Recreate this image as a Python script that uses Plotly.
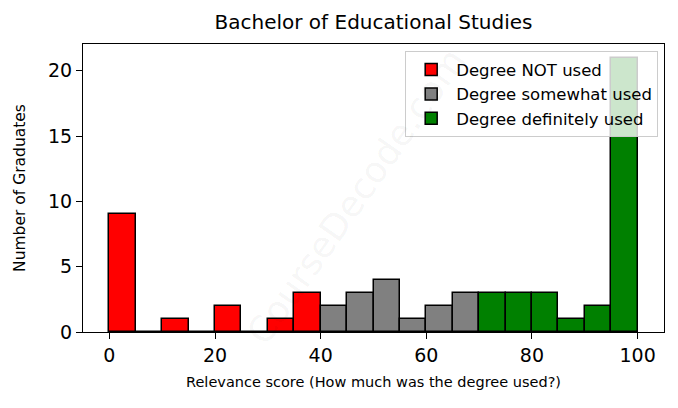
import plotly.graph_objects as go

bin_width = 5
not_used_bins = [0, 5, 10, 15, 20, 25, 30, 35]
not_used_counts = [9, 0, 1, 0, 2, 0, 1, 3]
somewhat_bins = [40, 45, 50, 55, 60, 65]
somewhat_counts = [2, 3, 4, 1, 2, 3]
definitely_bins = [70, 75, 80, 85, 90, 95]
definitely_counts = [3, 3, 3, 1, 2, 21]

series = [
    ("Degree NOT used", not_used_bins, not_used_counts, "#ff0000"),
    ("Degree somewhat used", somewhat_bins, somewhat_counts, "#808080"),
    ("Degree definitely used", definitely_bins, definitely_counts, "#008000"),
]

fig = go.Figure()
for name, bins, counts, color in series:
    fig.add_trace(go.Bar(
        x=bins, y=counts, name=name, width=bin_width, offset=0,
        marker=dict(color=color, line=dict(color="black", width=1.5)),
    ))

font = "DejaVu Sans"
# page body has an 8px margin; figure is sized/offset to compensate
W, H = 670, 400
fig.update_layout(
    width=W, height=H,
    margin=dict(l=75, r=14, t=36, b=76, autoexpand=False),
    paper_bgcolor="white", plot_bgcolor="white",
    font=dict(family=font, color="black"),
    title=dict(text="Bachelor of Educational Studies", x=(75 + 656) / 2 / W, xanchor="center",
               y=1 - 14 / H, yanchor="middle", font=dict(size=20, family=font)),
    showlegend=True,
    legend=dict(x=0.99, xanchor="right", y=0.975, yanchor="top",
                bgcolor="rgba(255,255,255,0.8)", bordercolor="#cccccc", borderwidth=1,
                font=dict(size=16.5, family=font), tracegroupgap=0, itemwidth=40),
    bargap=0,
)
fig.update_xaxes(range=[-5, 105], tickvals=[0, 20, 40, 60, 80, 100], automargin=False,
                 showline=True, linecolor="black", linewidth=1.2, mirror=True,
                 ticks="outside", ticklen=6, tickcolor="black", showgrid=False, zeroline=False,
                 tickfont=dict(size=19, family=font),
                 title=dict(text="Relevance score (How much was the degree used?)",
                            font=dict(size=14.5, family=font), standoff=11))
fig.update_yaxes(range=[0, 22.05], tickvals=[0, 5, 10, 15, 20], automargin=False,
                 showline=True, linecolor="black", linewidth=1.2, mirror=True,
                 ticks="outside", ticklen=6, tickcolor="black", showgrid=False, zeroline=False,
                 tickfont=dict(size=19, family=font),
                 title=dict(text="Number of Graduates", font=dict(size=15.5, family=font), standoff=18))

fig.add_annotation(text="CourseDecode.com", xref="paper", yref="paper", x=0.47, y=0.47,
                   showarrow=False, textangle=-55,
                   font=dict(size=36, family=font, color="rgba(0,0,0,0.05)"))

fig.write_html("out.html")
